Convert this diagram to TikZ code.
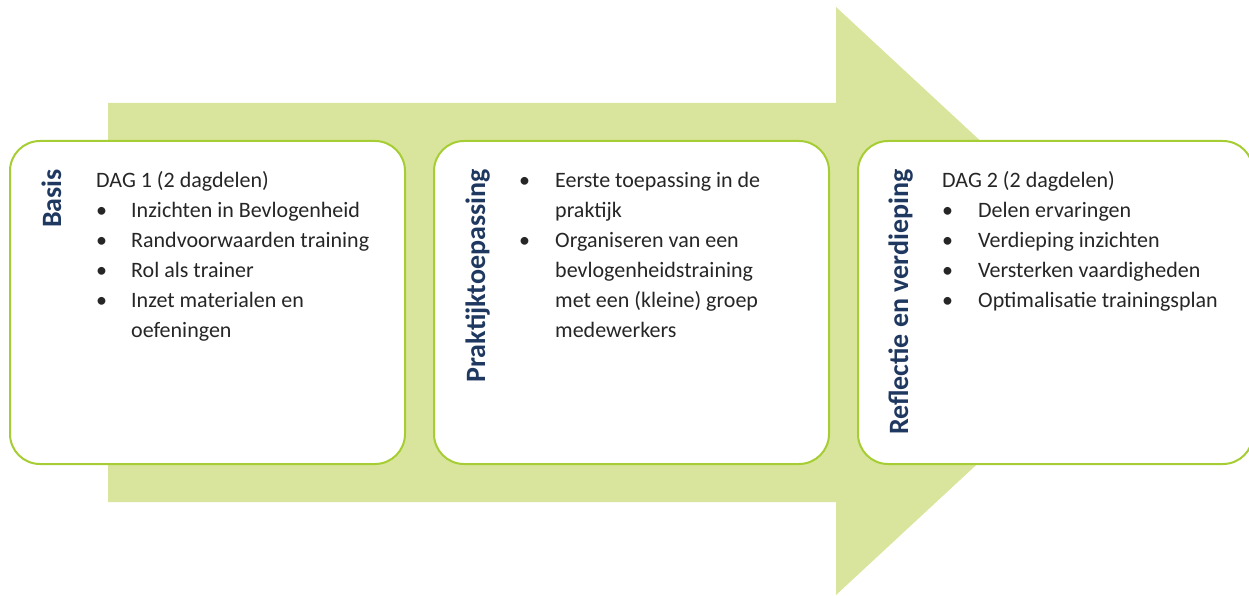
\documentclass[tikz,border=0pt]{standalone}
\usepackage{fontspec}
\setmainfont{Carlito}
\definecolor{arrowgreen}{RGB}{217,229,156}
\definecolor{rimgreen}{RGB}{166,206,52}
\definecolor{titleblue}{RGB}{31,56,96}

\begin{document}
\begin{tikzpicture}[x=1pt, y=-1pt]
  \tikzstyle{stage}=[draw=rimgreen, line width=2pt, fill=white, rounded corners=30pt, minimum width=395pt, minimum height=323pt, inner sep=0pt]
  \tikzstyle{title}=[rotate=90, anchor=base east, inner sep=0pt, text=titleblue, font=\fontsize{28}{32}\selectfont\bfseries]
  \tikzstyle{body}=[anchor=base west, inner sep=0pt, text=black!85, font=\fontsize{22}{30}\selectfont]

  \useasboundingbox (0, 0) rectangle (1249, 596);

  % big arrow behind the stages
  \fill[arrowgreen] (108, 103) -- (836, 103) -- (836, 7) -- (1153, 301) -- (836, 595) -- (836, 502) -- (108, 502) -- cycle;

  \node[stage] (basis) at (207.5, 302.5) {};
  \node[stage] (praktijk) at (631.5, 302.5) {};
  \node[stage] (reflectie) at (1055.5, 302.5) {};

  \node[title] (tbasis) at (61, 169) {Basis};
  \node[title] (tpraktijk) at (485, 169) {Praktijktoepassing};
  \node[title] (treflectie) at (908, 169) {Reflectie en verdieping};

  \node[body] (lbasis) at (96, 187) {\begin{tabular}[t]{@{}p{35pt}@{}l@{}}
    \multicolumn{2}{@{}l@{}}{DAG 1 (2 dagdelen)}\\
    \textbullet & Inzichten in Bevlogenheid\\
    \textbullet & Randvoorwaarden training\\
    \textbullet & Rol als trainer\\
    \textbullet & Inzet materialen en\\
                & oefeningen
  \end{tabular}};

  \node[body] (lpraktijk) at (519, 187) {\begin{tabular}[t]{@{}p{36pt}@{}l@{}}
    \textbullet & Eerste toepassing in de\\
                & praktijk\\
    \textbullet & Organiseren van een\\
                & bevlogenheidstraining\\
                & met een (kleine) groep\\
                & medewerkers
  \end{tabular}};

  \node[body] (lreflectie) at (942, 187) {\begin{tabular}[t]{@{}p{36pt}@{}l@{}}
    \multicolumn{2}{@{}l@{}}{DAG 2 (2 dagdelen)}\\
    \textbullet & Delen ervaringen\\
    \textbullet & Verdieping inzichten\\
    \textbullet & Versterken vaardigheden\\
    \textbullet & Optimalisatie trainingsplan
  \end{tabular}};
\end{tikzpicture}
\end{document}
